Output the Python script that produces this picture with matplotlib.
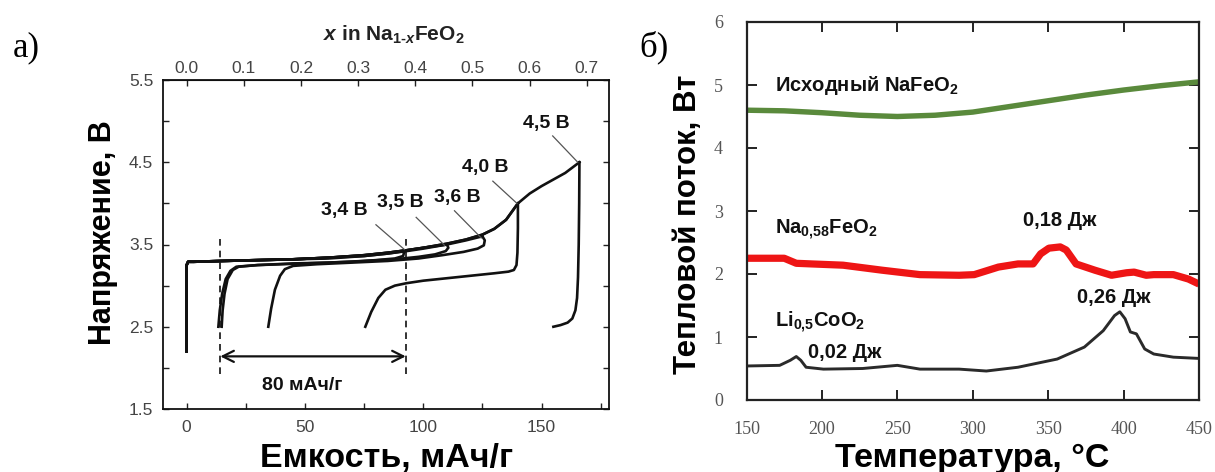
import matplotlib
matplotlib.use("Agg")
import matplotlib.pyplot as plt
from matplotlib.ticker import FixedLocator, FormatStrFormatter

plt.rcParams['font.family'] = ['Liberation Sans', 'DejaVu Sans']
plt.rcParams['mathtext.fontset'] = 'custom'
plt.rcParams['mathtext.rm'] = 'Liberation Sans:bold'
plt.rcParams['mathtext.it'] = 'Liberation Sans:italic:bold'
plt.rcParams['mathtext.bf'] = 'Liberation Sans:bold'

# ---------------- panel a: charge / discharge curves ----------------
# charge curves (capacity, mAh/g ; voltage, V) for each cut-off voltage
ch45_cap = [0, 0, 0.6, 3, 15, 30, 45, 60, 75, 85, 93, 100, 110, 118, 125, 130, 135, 140, 145, 150, 155, 160, 166]
ch45_v = [2.2, 3.25, 3.29, 3.29, 3.30, 3.31, 3.32, 3.34, 3.37, 3.40, 3.43, 3.46, 3.51, 3.56, 3.62, 3.69, 3.80, 4.00, 4.12, 4.21, 4.29, 4.37, 4.5]
ch40_cap = [0, 0, 0.6, 3, 15, 30, 45, 60, 75, 85, 93, 100, 110, 118, 125, 130, 135, 140]
ch40_v = [2.2, 3.25, 3.29, 3.29, 3.30, 3.31, 3.32, 3.34, 3.37, 3.40, 3.43, 3.46, 3.51, 3.56, 3.62, 3.69, 3.80, 4.00]
ch36_cap = [0, 0, 0.6, 3, 15, 30, 45, 60, 75, 85, 93, 100, 110, 118, 125]
ch36_v = [2.2, 3.25, 3.29, 3.29, 3.30, 3.31, 3.32, 3.34, 3.37, 3.40, 3.43, 3.46, 3.50, 3.55, 3.60]
ch35_cap = [0, 0, 0.6, 3, 15, 30, 45, 60, 75, 85, 93, 100, 110]
ch35_v = [2.2, 3.25, 3.29, 3.29, 3.30, 3.31, 3.32, 3.34, 3.36, 3.39, 3.42, 3.45, 3.50]
ch34_cap = [0, 0, 0.6, 3, 15, 30, 45, 60, 75, 85, 92]
ch34_v = [2.2, 3.25, 3.29, 3.29, 3.30, 3.31, 3.32, 3.33, 3.36, 3.39, 3.42]

# discharge curves
dis45_cap = [166, 165.9, 165.7, 165.4, 165.0, 164.3, 163, 161, 158, 155]
dis45_v = [4.5, 4.0, 3.5, 3.1, 2.85, 2.70, 2.60, 2.55, 2.52, 2.5]
dis40_cap = [140, 140, 139.8, 139.4, 138.3, 136, 130, 120, 110, 100, 93, 88, 84, 81, 78, 75.5]
dis40_v = [4.0, 3.7, 3.4, 3.25, 3.19, 3.17, 3.15, 3.12, 3.09, 3.06, 3.03, 3.00, 2.95, 2.85, 2.68, 2.5]
dis36_cap = [125, 126, 125.6, 123, 117, 108, 98, 85, 70, 55, 45, 41.5, 39.5, 37.3, 35.7, 34.5]
dis36_v = [3.6, 3.55, 3.49, 3.45, 3.41, 3.37, 3.33, 3.30, 3.28, 3.26, 3.24, 3.20, 3.12, 2.95, 2.72, 2.5]
dis35_cap = [110, 110.6, 109.5, 105, 98, 88, 75, 60, 45, 30, 22, 19.5, 17.3, 16.0, 15.2, 14.8]
dis35_v = [3.5, 3.46, 3.42, 3.38, 3.35, 3.32, 3.30, 3.28, 3.27, 3.25, 3.23, 3.19, 3.08, 2.90, 2.70, 2.5]
dis34_cap = [92, 91.5, 88, 80, 70, 60, 50, 40, 30, 21, 18.5, 16.5, 15.0, 14.0, 13.4]
dis34_v = [3.42, 3.36, 3.33, 3.31, 3.29, 3.28, 3.27, 3.26, 3.25, 3.23, 3.18, 3.08, 2.90, 2.70, 2.5]

cutoff_labels = ['3,4 В', '3,5 В', '3,6 В', '4,0 В', '4,5 В']
label_pos = [(66.5, 3.91), (90.5, 4.01), (114.5, 4.07), (126, 4.44), (152, 4.97)]
leader_start = [(80, 3.74), (97, 3.83), (113.2, 3.91), (129.4, 4.27), (154.7, 4.82)]
leader_end = [(92, 3.44), (109, 3.49), (124.5, 3.58), (139.6, 4.0), (165.3, 4.5)]

window_left, window_right = 14.2, 92.6
window_label = '80 мАч/г'
x_per_cap = 241.5          # mAh/g per unit of x in Na(1-x)FeO2
top_ticks = [0.0, 0.1, 0.2, 0.3, 0.4, 0.5, 0.6, 0.7]

# ---------------- panel b: DSC curves ----------------
t_green = [150, 175, 200, 225, 250, 275, 300, 325, 350, 375, 400, 425, 450]
q_green = [4.60, 4.59, 4.56, 4.52, 4.50, 4.52, 4.57, 4.66, 4.75, 4.84, 4.92, 4.99, 5.05]

t_red = [150, 175, 183, 193, 214, 240, 265, 291, 301, 317, 330, 340, 345, 350.5, 358, 362, 368.5, 381, 392, 402, 407, 415, 420, 433, 443, 450]
q_red = [2.25, 2.25, 2.17, 2.16, 2.14, 2.06, 1.99, 1.98, 1.99, 2.11, 2.16, 2.16, 2.32, 2.41, 2.43, 2.38, 2.16, 2.06, 1.98, 2.02, 2.03, 1.98, 1.99, 1.99, 1.92, 1.84]

t_black = [150, 172, 179, 183, 186, 189.5, 201, 227, 250, 265, 291, 309, 330, 356, 374, 386.5, 394, 397.5, 401, 404.5, 408.5, 414, 420, 433, 450]
q_black = [0.54, 0.55, 0.63, 0.69, 0.63, 0.52, 0.49, 0.50, 0.55, 0.49, 0.49, 0.46, 0.52, 0.65, 0.84, 1.10, 1.34, 1.40, 1.29, 1.08, 1.05, 0.81, 0.73, 0.68, 0.66]

dsc_labels = ['Исходный NaFeO$_2$', 'Na$_{0{,}58}$FeO$_2$', 'Li$_{0{,}5}$CoO$_2$']
dsc_label_pos = [(168.7, 4.99), (168.7, 2.70), (168.7, 1.23)]
heat_labels = ['0,18 Дж', '0,26 Дж', '0,02 Дж']
heat_label_pos = [(333, 2.85), (369.4, 1.63), (191, 0.75)]

W, H = 1215, 472
fig = plt.figure(figsize=(W / 100, H / 100), dpi=100)


def frac_box(x0, y0, x1, y1):
    return [x0 / W, 1 - y1 / H, (x1 - x0) / W, (y1 - y0) / H]


# ---------- panel a ----------
ax1 = fig.add_axes(frac_box(163, 80, 609, 409))
lc = '#111111'
lw = 1.9
for c, v in [(ch45_cap, ch45_v), (ch40_cap, ch40_v), (ch36_cap, ch36_v),
             (ch35_cap, ch35_v), (ch34_cap, ch34_v),
             (dis45_cap, dis45_v), (dis40_cap, dis40_v), (dis36_cap, dis36_v),
             (dis35_cap, dis35_v), (dis34_cap, dis34_v)]:
    ax1.plot(c, v, color=lc, lw=lw, solid_joinstyle='round')

for x in (window_left, window_right):
    ax1.plot([x, x], [1.93, 3.62], color=lc, lw=1.2, ls=(0, (4, 3)))
ax1.annotate('', xy=(window_left, 2.14), xytext=(window_right, 2.14),
             arrowprops=dict(arrowstyle='<->', lw=1.6, color=lc, mutation_scale=20,
                             shrinkA=0, shrinkB=0))
ax1.text((window_left + window_right) / 2 - 4.5, 1.79, window_label, fontsize=14,
         fontweight='bold', ha='center', va='center', color=lc)

for lab, p, s, e in zip(cutoff_labels, label_pos, leader_start, leader_end):
    ax1.text(p[0], p[1], lab, fontsize=14, fontweight='bold', ha='center', va='center', color=lc)
    ax1.plot([s[0], e[0]], [s[1], e[1]], color='#555555', lw=0.9)

ax1.set_xlim(-10, 178.5)
ax1.set_ylim(1.5, 5.5)
ax1.xaxis.set_major_locator(FixedLocator([0, 50, 100, 150]))
ax1.xaxis.set_minor_locator(FixedLocator([25, 75, 125, 175]))
ax1.yaxis.set_major_locator(FixedLocator([1.5, 2.5, 3.5, 4.5, 5.5]))
ax1.yaxis.set_minor_locator(FixedLocator([2.0, 3.0, 4.0, 5.0]))
ax1.yaxis.set_major_formatter(FormatStrFormatter('%.1f'))
ax1.tick_params(which='both', direction='in', right=True, top=False, length=4, width=1.0,
                color='#222222')
ax1.tick_params(axis='x', which='major', labelsize=12.5, labelcolor='#444444', pad=8)
ax1.tick_params(axis='y', which='major', labelsize=12.5, labelcolor='#444444', pad=7)
for sp in ax1.spines.values():
    sp.set_linewidth(1.3)
    sp.set_color('#111111')

sec = ax1.secondary_xaxis('top', functions=(lambda c: c / x_per_cap, lambda x: x * x_per_cap))
sec.xaxis.set_major_locator(FixedLocator(top_ticks))
sec.xaxis.set_major_formatter(FormatStrFormatter('%.1f'))
sec.tick_params(direction='in', length=4, width=1.0, labelsize=12.5, labelcolor='#444444',
                pad=3, color='#222222')

fig.text(394 / W, 1 - 35 / H, r'$\mathit{x}$ in Na$_{1\text{-}\mathit{x}}$FeO$_2$',
         fontsize=15, fontweight='bold', ha='center', va='center', color='#222222')
fig.text(103 / W, 1 - 233 / H, 'Напряжение, В', fontsize=22, fontweight='bold',
         rotation=90, ha='center', va='center')
fig.text(387 / W, 1 - 466.5 / H, 'Емкость, мАч/г', fontsize=24.5, fontweight='bold',
         ha='center', va='baseline')
fig.text(26 / W, 1 - 48 / H, 'а)', fontsize=25, family='Liberation Serif',
         ha='center', va='center')

# ---------- panel b ----------
ax2 = fig.add_axes(frac_box(746.5, 22, 1199, 400))
ax2.plot(t_green, q_green, color='#5a8a3c', lw=3.9, solid_capstyle='butt')
ax2.plot(t_red, q_red, color='#ee1515', lw=5.2, solid_capstyle='butt', solid_joinstyle='round')
ax2.plot(t_black, q_black, color='#2a2a2a', lw=2.1, solid_joinstyle='round')

for lab, p in zip(dsc_labels, dsc_label_pos):
    ax2.text(p[0], p[1], lab, fontsize=14.5, fontweight='bold', ha='left', va='center', color='#111111')
for lab, p in zip(heat_labels, heat_label_pos):
    ax2.text(p[0], p[1], lab, fontsize=14.5, fontweight='bold', ha='left', va='center', color='#111111')

ax2.set_xlim(150, 450)
ax2.set_ylim(0, 6)
ax2.xaxis.set_major_locator(FixedLocator([150, 200, 250, 300, 350, 400, 450]))
ax2.yaxis.set_major_locator(FixedLocator([0, 1, 2, 3, 4, 5, 6]))
ax2.tick_params(direction='in', top=True, right=True, length=7, width=1.4, color='#222222')
ax2.tick_params(axis='x', labelsize=13, labelcolor='#555555', pad=15)
ax2.tick_params(axis='y', labelsize=13, labelcolor='#555555', pad=17)
for lbl in ax2.get_xticklabels() + ax2.get_yticklabels():
    lbl.set_family('Liberation Serif')
for sp in ax2.spines.values():
    sp.set_linewidth(1.6)
    sp.set_color('#222222')

fig.text(688 / W, 1 - 224 / H, 'Тепловой поток, Вт', fontsize=22.5, fontweight='bold',
         rotation=90, ha='center', va='center')
fig.text(972 / W, 1 - 466.5 / H, 'Температура, °C', fontsize=24.5, fontweight='bold',
         ha='center', va='baseline')
fig.text(654 / W, 1 - 47 / H, 'б)', fontsize=25, family='Liberation Serif',
         ha='center', va='center')

fig.savefig('out.png', dpi=100)
